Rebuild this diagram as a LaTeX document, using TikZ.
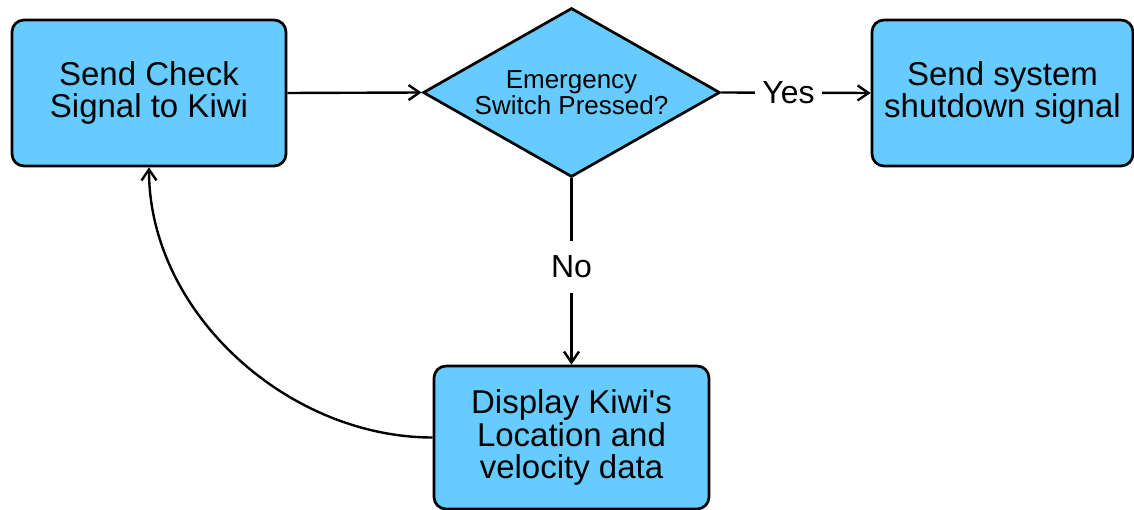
\documentclass[tikz,border=0pt]{standalone}
\usepackage{fontspec}
\setmainfont{Liberation Sans}[Ligatures=TeXOff]
\usetikzlibrary{shapes.geometric,arrows.meta}

\definecolor{boxblue}{RGB}{102,204,255}

\tikzset{
  stepbox/.style={draw=black, line width=2.7pt, fill=boxblue, rounded corners=12pt,
    inner sep=0pt, align=center, font=\fontsize{33}{32.5}\selectfont},
  decision/.style={draw=black, line width=2.7pt, fill=boxblue, diamond, aspect=1.757,
    inner sep=0pt, align=center, font=\fontsize{26}{26.5}\selectfont},
  flow/.style={line width=2.4pt, -{Straight Barb[length=11pt,width=15pt,line width=2.4pt]}},
  edgelabel/.style={fill=white, font=\fontsize{32}{32}\selectfont, inner xsep=7pt}
}

\begin{document}
\begin{tikzpicture}[x=1pt, y=-1pt]
  \useasboundingbox (0,0) rectangle (1134,510);

  % process boxes and the decision
  \node[stepbox, minimum width=274pt, minimum height=146pt] (check) at (149,93)
    {Send Check\\Signal to Kiwi};
  \node[decision, minimum width=297pt, minimum height=169pt] (switch) at (571.5,92.5)
    {Emergency\\Switch Pressed?};
  \node[stepbox, minimum width=261pt, minimum height=146pt] (shutdown) at (1002.5,93)
    {Send system\\shutdown signal};
  \node[stepbox, minimum width=275pt, minimum height=143pt] (display) at (571.5,437.5)
    {Display Kiwi's\\Location and\\velocity data};

  % connectors
  \draw[flow] (check.east) -- (switch.west);
  \draw[flow] (switch.east) -- node[edgelabel, pos=0.45] {Yes} (shutdown.west);
  \draw[flow] (switch.south) -- node[edgelabel, pos=0.476, inner ysep=15pt] {No} (display.north);
  \draw[flow] (display.west) to[out=180, in=-90, looseness=0.95] (check.south);
\end{tikzpicture}
\end{document}
